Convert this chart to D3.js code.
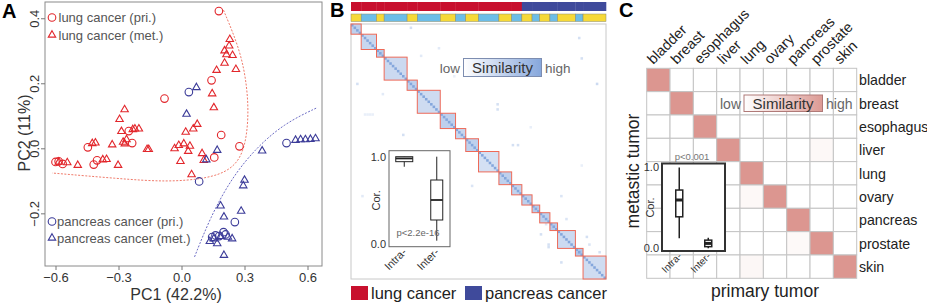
<!DOCTYPE html>
<html lang="en">
<head>
<meta charset="UTF-8">
<title>Tumor PCA and similarity</title>
<script src="https://d3js.org/d3.v7.min.js"></script>
<style>
  body { margin: 0; background: #fff; }
  svg { display: block; font-family: "Liberation Sans", Arial, sans-serif; }
</style>
</head>
<body>
<svg id="fig" width="927" height="305"></svg>
<script>
// ---------- panel A: PCA, [PC1, PC2]
const lungPri = [[0.178,0.422],[0.143,0.209],[-0.081,0.153],[0.189,0.041],[0.276,0.006],[0.156,-0.028],
  [-0.235,0.016],[-0.251,0.053],[-0.446,0.003],[-0.418,-0.050],[-0.402,-0.037],[-0.600,-0.042],
  [-0.585,-0.040],[-0.566,-0.048]];
const lungMet = [[0.230,0.335],[0.205,0.300],[0.227,0.315],[0.214,0.288],[0.243,0.286],[0.205,0.262],
  [0.167,0.240],[0.259,0.243],[0.146,0.168],[0.154,0.125],[0.075,0.074],[0.056,0.060],[0.020,0.050],
  [-0.033,-0.001],[-0.013,0.009],[0.011,0.014],[0.040,0.007],[0.032,-0.009],[-0.005,-0.040],
  [0.098,-0.016],[0.106,-0.037],[0.048,-0.081],
  [-0.271,0.119],[-0.295,0.089],[-0.286,0.052],[-0.232,0.058],[-0.222,0.060],[-0.203,0.060],
  [-0.262,0.027],[-0.278,0.019],[-0.270,0.014],[-0.330,0.011],[-0.410,0.017],[-0.425,0.015],
  [-0.357,-0.034],[-0.375,-0.035],[-0.494,-0.052],[-0.302,-0.052],[-0.544,-0.044],[-0.584,-0.042],
  [-0.164,-0.003],[-0.156,-0.003]];
const pancPri = [[0.035,0.173],[0.084,-0.102],[0.500,0.016],[0.254,-0.227],[0.146,-0.273],
  [0.162,-0.268],[0.200,-0.258],[0.210,-0.265],[0.180,-0.270]];
const pancMet = [[0.071,0.187],[0.024,0.105],[0.170,-0.006],[0.118,-0.035],[0.384,-0.008],
  [0.300,-0.098],[0.294,-0.115],[0.186,-0.177],[0.202,-0.211],[0.284,-0.193],[0.135,-0.286],
  [0.154,-0.278],[0.170,-0.293],[0.186,-0.271],[0.221,-0.273],[0.241,-0.278],[0.202,-0.329],
  [0.543,0.025],[0.567,0.027],[0.590,0.027],[0.614,0.028],[0.638,0.030]];
const lungFit = [[0.200,0.425],[0.281,0.300],[0.313,0.189],[0.320,0.086],[0.297,-0.016],[0.233,-0.068],
  [0.122,-0.093],[-0.068,-0.104],[-0.306,-0.093],[-0.616,-0.076]];
const pancFit = [[0.062,-0.334],[0.138,-0.211],[0.233,-0.098],[0.344,-0.006],[0.487,0.076],[0.646,0.125]];
const pcXTicks = [-0.6, -0.3, 0, 0.3, 0.6];
const pcYTicks = [-0.2, 0, 0.2, 0.4];
const legendA = ["lung cancer (pri.)", "lung cancer (met.)", "pancreas cancer (pri.)", "pancreas cancer (met.)"];

// ---------- panel B: sample similarity heatmap
const blockSizes = [4,6,3,9,4,9,6,4,5,8,5,4,4,3,4,3,7,3,9];
const blockCancer = ["lung","lung","lung","lung","lung","lung","lung","lung","lung","lung","lung","lung",
  "pancreas","pancreas","pancreas","pancreas","pancreas","pancreas","pancreas"];
const blockBand = ["y","b","y","b","y","b","y","b","y","b","y","b","y","b","y","b","y","b","y"];
const blockIntra = [0.45,0.38,0.5,0.36,0.45,0.34,0.45,0.4,0.45,0.3,0.45,0.42,0.45,0.5,0.45,0.5,0.35,0.55,0.33];
// off-block speckles: [row, col, similarity]
const speckles = [[1,23,0.3],[5,89,0.3],[9,34,0.2],[13,90,0.3],[12,27,0.2],[23,96,0.35],[23,2,0.3],
  [27,12,0.2],[31,57,0.3],[33,57,0.3],[35,5,0.15],[35,6,0.15],[35,7,0.15],[35,8,0.15],[43,20,0.3],
  [47,63,0.3],[47,65,0.3],[63,47,0.25],[72,22,0.2],[67,4,0.2],[67,82,0.25],[82,74,0.3],[78,76,0.25],
  [86,77,0.3],[87,77,0.3],[76,84,0.25],[83,92,0.3],[86,93,0.25],[93,82,0.3],[89,97,0.3],[20,40,0.15],
  [57,31,0.2],[40,70,0.15],[55,90,0.15]];
const cancerNames = ["lung cancer", "pancreas cancer"];
const boxNames = ["Intra-", "Inter-"];
const boxB = [[0.885,0.943,0.98,1.0,1.0],[0.038,0.275,0.504,0.733,1.0]];   // min,q1,med,q3,max

// ---------- panel C: tissue similarity
const tissues = ["bladder","breast","esophagus","liver","lung","ovary","pancreas","prostate","skin"];
const faintCells = [[3,7,0.07],[5,4,0.07],[7,6,0.06],[8,4,0.08]];   // [row, col, value]
const boxC = [[0.123,0.386,0.592,0.714,0.99],[0.0,0.02,0.06,0.10,0.13]];

const svg = d3.select("#fig");
const red = "#e2262b", navy = "#3c3c99";

// ================= A =================
const x = d3.scaleLinear().domain([-0.65, 0.669]).range([45, 322]);
const y = d3.scaleLinear().domain([-0.362, 0.45]).range([266, 2]);
const gA = svg.append("g");

gA.append("rect").attr("x", 45).attr("y", 2).attr("width", 277).attr("height", 264)
  .attr("fill", "none").attr("stroke", "#8a8a8a");

const ax = gA.append("g").attr("transform", "translate(0,266)")
  .call(d3.axisBottom(x).tickValues(pcXTicks).tickSize(4).tickFormat(d3.format(".1f")));
ax.select(".domain").remove();
ax.selectAll("line").attr("stroke", "#777");
ax.selectAll("text").attr("font-size", 13).attr("fill", "#333").attr("y", 7);

const ay = gA.append("g").attr("transform", "translate(45,0)")
  .call(d3.axisLeft(y).tickValues(pcYTicks).tickSize(4).tickFormat(d3.format(".1f")));
ay.select(".domain").remove();
ay.selectAll("line").attr("stroke", "#777");
ay.selectAll("text").attr("font-size", 13).attr("fill", "#333")
  .attr("transform", "rotate(-90)").attr("x", 0).attr("y", -6).attr("dy", 0)
  .attr("text-anchor", "middle");

gA.append("text").attr("x", 176).attr("y", 300).attr("text-anchor", "middle")
  .attr("font-size", 16).attr("fill", "#333").text("PC1 (42.2%)");
gA.append("text").attr("transform", "translate(30,133) rotate(-90)").attr("text-anchor", "middle")
  .attr("font-size", 16).attr("fill", "#333").text("PC2 (11%)");

const fitLine = d3.line().x(d => x(d[0])).y(d => y(d[1])).curve(d3.curveBasis);
gA.append("path").attr("d", fitLine(lungFit)).attr("fill", "none")
  .attr("stroke", "#f07a6a").attr("stroke-width", 1).attr("stroke-dasharray", "2,1.5");
gA.append("path").attr("d", fitLine(pancFit)).attr("fill", "none")
  .attr("stroke", "#6b6bc4").attr("stroke-width", 1).attr("stroke-dasharray", "2,1.5");

const tri = d3.symbol().type(d3.symbolTriangle).size(24);
function circles(data, col) {
  gA.append("g").selectAll("circle").data(data).join("circle")
    .attr("cx", d => x(d[0])).attr("cy", d => y(d[1])).attr("r", 3.8)
    .attr("fill", "none").attr("stroke", col).attr("stroke-width", 1.1);
}
function triangles(data, col) {
  gA.append("g").selectAll("path").data(data).join("path")
    .attr("transform", d => `translate(${x(d[0])},${y(d[1])})`).attr("d", tri)
    .attr("fill", "none").attr("stroke", col).attr("stroke-width", 1.1);
}
triangles(lungMet, red);
circles(lungPri, red);
triangles(pancMet, navy);
circles(pancPri, navy);

// legend
const legY = [17.5, 35, 221.5, 238];
const legCol = [red, red, navy, navy];
legendA.forEach((t, i) => {
  const g = gA.append("g").attr("transform", `translate(52,${legY[i]})`);
  if (i % 2 === 0) g.append("circle").attr("r", 3.8).attr("fill", "none").attr("stroke", legCol[i]).attr("stroke-width", 1.1);
  else g.append("path").attr("d", tri).attr("fill", "none").attr("stroke", legCol[i]).attr("stroke-width", 1.1);
  g.append("text").attr("x", i < 2 ? 6.5 : 5).attr("y", 4.6).attr("font-size", 13).attr("fill", "#555").text(t);
});

svg.append("text").attr("x", 2).attr("y", 18).attr("font-size", 20).attr("font-weight", "bold").text("A");

// ================= B =================
const sampleBlock = blockSizes.flatMap((n, b) => d3.range(n).map(() => b));
const nS = sampleBlock.length;
const sx = d3.scaleBand().domain(d3.range(nS)).range([351, 606]);
const sy = d3.scaleBand().domain(d3.range(nS)).range([24, 279]);
const blocks = blockSizes.map((n, b) => ({ b, start: d3.sum(blockSizes.slice(0, b)), n }));
const blueScale = d3.scaleLinear().domain([0, 1]).range(["#ffffff", "#6e96d6"]);
const gB = svg.append("g");

gB.append("rect").attr("x", 351).attr("y", 24).attr("width", 255).attr("height", 255)
  .attr("fill", "#fff").attr("stroke", "#c8c8c8");

gB.append("g").selectAll("rect").data(blocks).join("rect")
  .attr("x", d => sx(d.start)).attr("y", d => sy(d.start))
  .attr("width", d => sx.bandwidth() * d.n).attr("height", d => sy.bandwidth() * d.n)
  .attr("fill", d => blueScale(blockIntra[d.b]));
gB.append("g").selectAll("rect").data(d3.range(nS)).join("rect")
  .attr("x", d => sx(d)).attr("y", d => sy(d))
  .attr("width", sx.bandwidth()).attr("height", sy.bandwidth())
  .attr("fill", blueScale(0.85));
gB.append("g").selectAll("rect").data(speckles).join("rect")
  .attr("x", d => sx(d[1])).attr("y", d => sy(d[0]))
  .attr("width", sx.bandwidth()).attr("height", sy.bandwidth())
  .attr("fill", d => blueScale(d[2]));
gB.append("g").selectAll("rect").data(blocks).join("rect")
  .attr("x", d => sx(d.start)).attr("y", d => sy(d.start))
  .attr("width", d => sx.bandwidth() * d.n).attr("height", d => sy.bandwidth() * d.n)
  .attr("fill", "none").attr("stroke", "#ee6a58").attr("stroke-width", 1);

// top annotation bars
const cancerCol = { lung: "#c8102e", pancreas: "#3f4a9b" };
gB.append("g").selectAll("rect").data(blocks).join("rect")
  .attr("x", d => sx(d.start)).attr("y", 2).attr("width", d => sx.bandwidth() * d.n + 0.3).attr("height", 9)
  .attr("fill", d => cancerCol[blockCancer[d.b]]);
gB.append("g").selectAll("rect").data(blocks).join("rect")
  .attr("x", d => sx(d.start)).attr("y", 14).attr("width", d => sx.bandwidth() * d.n).attr("height", 7.5)
  .attr("fill", d => blockBand[d.b] === "y" ? "#f6d938" : "#6cbde8")
  .attr("stroke", "#8a8a6a").attr("stroke-width", 0.5);

// similarity key
const defs = svg.append("defs");
const gradB = defs.append("linearGradient").attr("id", "gB");
gradB.append("stop").attr("offset", "0%").attr("stop-color", "#ffffff");
gradB.append("stop").attr("offset", "100%").attr("stop-color", "#86a7dc");
gB.append("rect").attr("x", 463.5).attr("y", 58.5).attr("width", 78).attr("height", 18)
  .attr("fill", "url(#gB)").attr("stroke", "#7d8db0");
gB.append("text").attr("x", 502.5).attr("y", 73).attr("text-anchor", "middle").attr("font-size", 15).attr("fill", "#333").text("Similarity");
gB.append("text").attr("x", 460).attr("y", 73).attr("text-anchor", "end").attr("font-size", 13.5).attr("fill", "#666").text("low");
gB.append("text").attr("x", 545).attr("y", 73).attr("font-size", 13.5).attr("fill", "#666").text("high");

// inset boxplot
function boxInset(g, frame, yRange, stats, widths, opts) {
  const by = d3.scaleLinear().domain([0, 1]).range(yRange);
  const bx = d3.scalePoint().domain(boxNames).range([frame.x, frame.x + frame.w]).padding(0.5);
  g.append("rect").attr("x", frame.x).attr("y", frame.y).attr("width", frame.w).attr("height", frame.h)
    .attr("fill", "#fff").attr("stroke", opts.frameCol).attr("stroke-width", opts.frameW);
  stats.forEach((s, i) => {
    const cx = bx(boxNames[i]) + opts.shift[i], w = widths[i];
    g.append("line").attr("x1", cx).attr("x2", cx).attr("y1", by(s[0])).attr("y2", by(s[4]))
      .attr("stroke", "#222").attr("stroke-width", opts.lw);
    g.append("rect").attr("x", cx - w / 2).attr("y", by(s[3])).attr("width", w).attr("height", Math.max(by(s[1]) - by(s[3]), 1))
      .attr("fill", "#fff").attr("stroke", "#222").attr("stroke-width", opts.lw);
    g.append("line").attr("x1", cx - w / 2).attr("x2", cx + w / 2).attr("y1", by(s[2])).attr("y2", by(s[2]))
      .attr("stroke", "#222").attr("stroke-width", opts.medW);
    g.append("text").attr("transform", `translate(${cx + 3},${frame.y + frame.h + 6}) rotate(-45)`)
      .attr("text-anchor", "end").attr("font-size", opts.fs).attr("fill", "#333").text(boxNames[i]);
  });
  [1, 0].forEach(v => g.append("text").attr("x", frame.x - 3).attr("y", by(v) + 4)
    .attr("text-anchor", "end").attr("font-size", 11).attr("fill", "#333").text(d3.format(".1f")(v)));
  g.append("text").attr("transform", `translate(${opts.corX},${(yRange[0] + yRange[1]) / 2}) rotate(-90)`)
    .attr("text-anchor", "middle").attr("font-size", 11).attr("fill", "#333").text("Cor.");
}
boxInset(gB, { x: 389, y: 150.7, w: 61, h: 96 }, [244, 156.7], boxB, [17, 12],
  { frameCol: "#666", frameW: 1, lw: 1, medW: 1.8, fs: 11, corX: 380, shift: [0, 2] });
gB.append("text").attr("x", 418).attr("y", 236).attr("text-anchor", "middle").attr("font-size", 9.5)
  .attr("fill", "#666").text("p<2.2e-16");

// bottom legend
cancerNames.forEach((t, i) => {
  const lx = i === 0 ? 351 : 465;
  gB.append("rect").attr("x", lx).attr("y", 286).attr("width", 17).attr("height", 14)
    .attr("fill", i === 0 ? cancerCol.lung : cancerCol.pancreas);
  gB.append("text").attr("x", lx + 20).attr("y", 299).attr("font-size", 16.5).attr("fill", "#222").text(t);
});
svg.append("text").attr("x", 330).attr("y", 17).attr("font-size", 20).attr("font-weight", "bold").text("B");

// ================= C =================
const cx = d3.scaleBand().domain(tissues).range([646.7, 856.7]);
const cy = d3.scaleBand().domain(tissues).range([68.3, 278.3]);
const pinkScale = d3.scaleLinear().domain([0, 1]).range(["#ffffff", "#dc9690"]);
const cells = tissues.flatMap((r, i) => tissues.map((c, j) => {
  const f = faintCells.find(d => d[0] === i && d[1] === j);
  return { r, c, v: i === j ? 1 : (f ? f[2] : 0) };
}));
const gC = svg.append("g");
gC.append("g").selectAll("rect").data(cells).join("rect")
  .attr("x", d => cx(d.c)).attr("y", d => cy(d.r))
  .attr("width", cx.bandwidth()).attr("height", cy.bandwidth())
  .attr("fill", d => pinkScale(d.v)).attr("stroke", "#c4c4c4").attr("stroke-width", 1);

gC.append("g").selectAll("text").data(tissues).join("text")
  .attr("transform", d => `translate(${cx(d) + cx.bandwidth() / 2 - 5},65) rotate(-45)`)
  .attr("font-size", 14.5).attr("fill", "#222").text(d => d);
gC.append("g").selectAll("text").data(tissues).join("text")
  .attr("x", 859).attr("y", d => cy(d) + cy.bandwidth() / 2 + 5.5)
  .attr("font-size", 14.2).attr("fill", "#222").text(d => d);

gC.append("text").attr("transform", "translate(639,171) rotate(-90)").attr("text-anchor", "middle")
  .attr("font-size", 17.5).attr("fill", "#222").text("metastic tumor");
gC.append("text").attr("x", 765).attr("y", 297).attr("text-anchor", "middle")
  .attr("font-size", 17.5).attr("fill", "#222").text("primary tumor");

const gradC = defs.append("linearGradient").attr("id", "gC");
gradC.append("stop").attr("offset", "0%").attr("stop-color", "#ffffff");
gradC.append("stop").attr("offset", "100%").attr("stop-color", "#dc9a94");
gC.append("rect").attr("x", 744).attr("y", 95).attr("width", 78.5).attr("height", 16.5)
  .attr("fill", "url(#gC)").attr("stroke", "#b07a78");
gC.append("text").attr("x", 783).attr("y", 109).attr("text-anchor", "middle").attr("font-size", 15).attr("fill", "#333").text("Similarity");
gC.append("text").attr("x", 741).attr("y", 109).attr("text-anchor", "end").attr("font-size", 14).attr("fill", "#666").text("low");
gC.append("text").attr("x", 826).attr("y", 109).attr("font-size", 14).attr("fill", "#666").text("high");

boxInset(gC, { x: 662, y: 163.5, w: 63, h: 87.5 }, [248.3, 166.7], boxC, [7, 7],
  { frameCol: "#333", frameW: 2, lw: 1.5, medW: 3, fs: 10, corX: 654, shift: [1.5, -1] });
gC.append("text").attr("x", 692).attr("y", 160).attr("text-anchor", "middle").attr("font-size", 9.5)
  .attr("fill", "#777").text("p<0.001");
svg.append("text").attr("x", 619).attr("y", 17).attr("font-size", 20).attr("font-weight", "bold").text("C");
</script>
</body>
</html>
